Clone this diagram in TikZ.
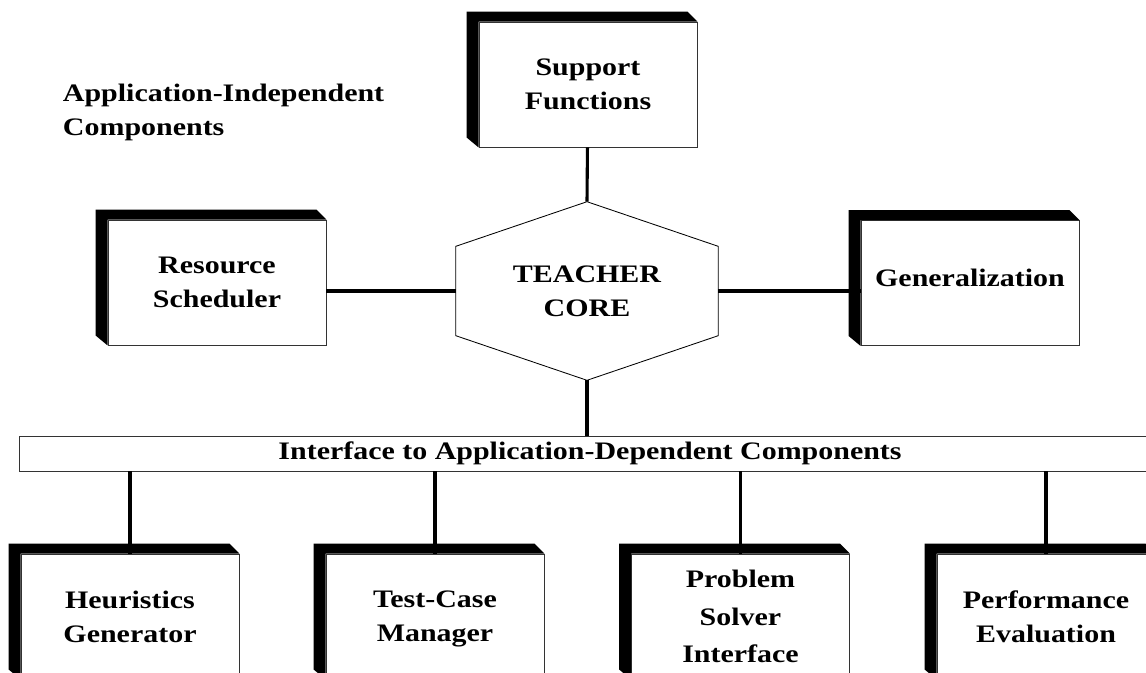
\documentclass[tikz,border=0pt]{standalone}
\usepackage{fontspec}
\setmainfont{Liberation Serif}[FakeStretch=1.19]
\usetikzlibrary{calc}

\tikzset{
  block/.style={draw=black!80, line width=0.6pt, fill=white,
    minimum width=5.45cm, minimum height=3.125cm, align=center},
  link/.style={line width=2.2pt},
}
% black edge on top and left of a block
\newcommand{\blockshadow}[1]{%
  \fill (#1.south west) -- ++(-12,-10) |- ([shift={(-10,-10)}]#1.north east)
    -- (#1.north east) -- (#1.north west) -- cycle;}

\begin{document}
\begin{tikzpicture}[x=0.025cm, y=-0.025cm,
    font=\bfseries\fontsize{17.9}{24.1}\selectfont]
  \useasboundingbox (0,0) rectangle (1146,672);
  \clip (0,0) rectangle (1146,672);

  % Caption
  \node[anchor=west, align=left] (title) at (58,112)
    {Application-Independent\\Components};

  % Upper blocks
  \node[block] (support) at (588,84.5) {Support\\Functions};
  \node[block] (sched) at (217,282.5) {Resource\\Scheduler};
  \node[block, execute at end node={\rule[-8pt]{0pt}{8pt}}]
    (general) at (970,283) {Generalization};

  % Core
  \node[minimum width=6.55cm, minimum height=4.45cm, align=center]
    (core) at (587,291) {TEACHER\\CORE};
  \draw[line width=0.6pt] (core.north)
    -- ($(core.north east)!.25!(core.south east)$)
    -- ($(core.north east)!.75!(core.south east)$)
    -- (core.south)
    -- ($(core.north west)!.75!(core.south west)$)
    -- ($(core.north west)!.25!(core.south west)$) -- cycle;

  % Interface bar
  \node[draw=black!80, line width=0.6pt, minimum width=28.525cm,
    minimum height=0.875cm, anchor=west] (iface) at (19,453.5)
    {Interface to Application-Dependent Components};

  % Lower blocks
  \node[block] (heur) at (130,616.5) {Heuristics\\Generator};
  \node[block] (testcase) at (435,616.5) {Test-Case\\Mana\smash{g}er};
  \node[block, font=\bfseries\fontsize{17.9}{26.5}\selectfont]
    (solver) at (740.5,616.5) {Problem\\Solver\\Interface};
  \node[block] (perf) at (1046,616.5) {Performance\\Evaluation};

  \foreach \b in {support,sched,general,heur,testcase,solver,perf}
    \blockshadow{\b};

  % Connectors
  \draw[link] (support) -- (core.north);
  \draw[link] (core.west) -- (core.west -| sched.east);
  \draw[link] (core.east) -- (core.east -| general.west);
  \draw[link] (core.south) -- (core.south |- iface.north);
  \foreach \b in {heur,testcase,solver,perf}
    \draw[link] (\b.north) -- (\b.north |- iface.south);
\end{tikzpicture}
\end{document}
